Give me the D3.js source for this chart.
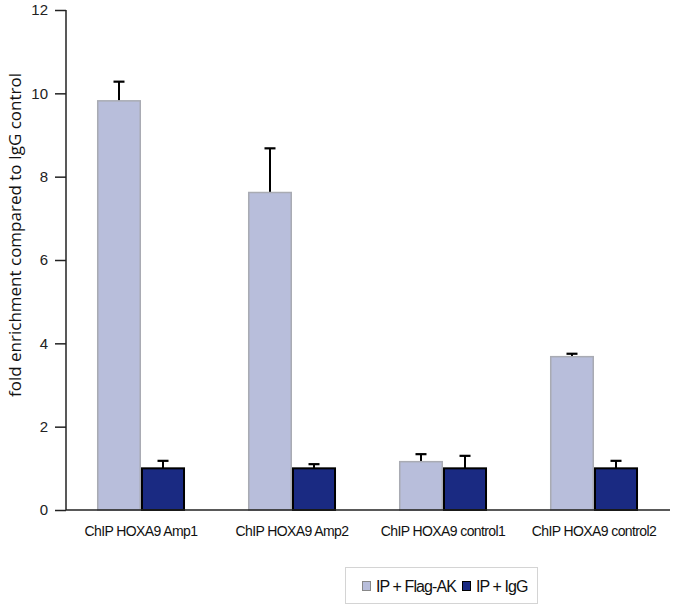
<!DOCTYPE html>
<html><head><meta charset="utf-8">
<script src="https://cdn.jsdelivr.net/npm/d3@7"></script>
<style>body{margin:0;background:#fff}svg{display:block}</style>
</head><body>
<svg id="c" width="675" height="609"></svg>
<script>
const categories = ["ChIP HOXA9 Amp1","ChIP HOXA9 Amp2","ChIP HOXA9 control1","ChIP HOXA9 control2"];
const seriesNames = ["IP + Flag-AK","IP + IgG"];
const flagValues = [9.82, 7.62, 1.16, 3.68];
const flagErrors = [0.46, 1.06, 0.18, 0.07];
const iggValues = [1.0, 1.0, 1.0, 1.0];
const iggErrors = [0.18, 0.10, 0.30, 0.18];
const yTicks = [0,2,4,6,8,10,12];
const colors = ["#b8bedb","#1a2a82"];
const strokes = ["#a9abb3","#000"];

const svg = d3.select("#c");
const y = d3.scaleLinear().domain([0,12]).range([510,10]);
const x0 = d3.scaleBand().domain(categories).range([65.5,669.5]).paddingInner(0.417).paddingOuter(0.2085);
const x1 = d3.scaleBand().domain(seriesNames).range([0,x0.bandwidth()]);

const data = categories.map((c,i)=>({c, vals:[
  {s:seriesNames[0], v:flagValues[i], e:flagErrors[i], k:0},
  {s:seriesNames[1], v:iggValues[i], e:iggErrors[i], k:1}]}));

const g = svg.append("g");
const grp = g.selectAll("g.grp").data(data).join("g")
  .attr("transform", d=>`translate(${x0(d.c)},0)`);
// error bars
grp.selectAll("g.err").data(d=>d.vals).join("g").each(function(d){
  const cx = x1(d.s)+x1.bandwidth()/2;
  const sel = d3.select(this);
  sel.append("line").attr("x1",cx).attr("x2",cx).attr("y1",y(d.v)).attr("y2",y(d.v+d.e))
    .attr("stroke","#000").attr("stroke-width",2);
  sel.append("line").attr("x1",cx-5.5).attr("x2",cx+5.5).attr("y1",y(d.v+d.e)).attr("y2",y(d.v+d.e))
    .attr("stroke","#000").attr("stroke-width",2.2);
});
grp.selectAll("rect").data(d=>d.vals).join("rect")
  .attr("x", d=>x1(d.s)+(d.k===0?0.75:1))
  .attr("width", d=>x1.bandwidth()-(d.k===0?1.5:2))
  .attr("y", d=>y(d.v))
  .attr("height", d=>y(0)-y(d.v))
  .attr("fill", d=>colors[d.k])
  .attr("stroke", d=>strokes[d.k])
  .attr("stroke-width", d=>d.k===0?1.5:2);

// y axis
const yAxis = g.append("g").attr("transform","translate(66,0)")
  .call(d3.axisLeft(y).tickValues(yTicks).tickSize(11).tickPadding(7).tickFormat(d3.format("d")));
yAxis.select(".domain").attr("d","M0,510V10").attr("stroke","#222").attr("stroke-width",1.5);
yAxis.selectAll(".tick line").attr("stroke","#222").attr("stroke-width",1.5);
yAxis.selectAll("text").attr("font-family","Liberation Sans Narrow, Liberation Sans, Arial").attr("font-size",15).attr("fill","#222");

// x axis
const xAxis = g.append("g").attr("transform","translate(0,510)")
  .call(d3.axisBottom(x0).tickSize(0).tickPadding(16));
xAxis.select(".domain").attr("d","M66,0H670").attr("stroke","#222").attr("stroke-width",1.5);
xAxis.selectAll("text").attr("font-family","Liberation Sans, Arial").attr("font-size",14)
  .attr("letter-spacing","-0.6px").attr("fill","#111");

// y label
svg.append("text").attr("transform","translate(21,235) rotate(-90)")
  .attr("text-anchor","middle").attr("font-family","Open Sans").attr("font-size",17).attr("fill","#111")
  .text("fold enrichment compared to IgG control");

// legend
const lg = svg.append("g");
lg.append("rect").attr("x",345.5).attr("y",567.5).attr("width",192).attr("height",36)
  .attr("fill","#fff").attr("stroke","#d4d4d4").attr("stroke-width",1);
const items = lg.selectAll("g.it").data(seriesNames).join("g");
const lx = [362, 462];
items.append("rect").attr("x",(d,i)=>lx[i]+0.5).attr("y",581.5).attr("width",8).attr("height",9)
  .attr("fill",(d,i)=>colors[i]).attr("stroke",(d,i)=>i===0?"#888":"#000").attr("stroke-width",1);
items.append("text").attr("x",(d,i)=>lx[i]+14).attr("y",591.5)
  .attr("font-family","Liberation Sans, Arial").attr("font-size",16).attr("letter-spacing","-0.9px").attr("fill","#111")
  .text(d=>d);
</script>
</body></html>
